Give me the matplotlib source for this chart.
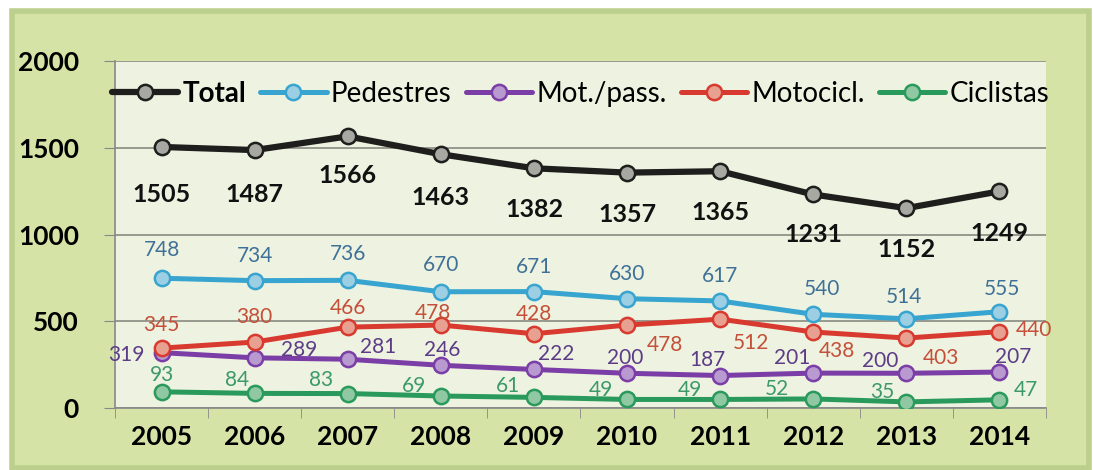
# road victims by type of user, 2005-2014

import matplotlib as mpl
mpl.use('Agg')
import matplotlib.pyplot as plt
from matplotlib.patches import Rectangle
import numpy as np

plt.rcParams['font.family'] = ['Lato', 'DejaVu Sans']

years = ['2005', '2006', '2007', '2008', '2009', '2010', '2011', '2012', '2013', '2014']
total = [1505, 1487, 1566, 1463, 1382, 1357, 1365, 1231, 1152, 1249]
pedestres = [748, 734, 736, 670, 671, 630, 617, 540, 514, 555]
mot_pass = [319, 289, 281, 246, 222, 200, 187, 201, 200, 207]
motocicl = [345, 380, 466, 478, 428, 478, 512, 438, 403, 440]
ciclistas = [93, 84, 83, 69, 61, 49, 49, 52, 35, 47]

# label offsets (points) per point
off_total = [(0, -34), (0, -32), (0, -28), (0, -31), (0, -30), (0, -30), (0, -30), (0, -29), (0, -30), (0, -30)]
off_ped = [(0, 20), (0, 18), (0, 19), (0, 19), (0, 18), (0, 18), (0, 18), (6, 18), (-2, 16), (2, 16)]
off_mot = [(-25, -2), (32, 6), (22, 9), (1, 11), (16, 11), (-1, 11), (-9, 11), (-15, 11), (-19, 9), (10, 11)]
off_moto = [(0, 17), (0, 18), (0, 14), (-6, 9), (0, 14), (27, -14), (22, -17), (17, -14), (25, -14), (25, 1)]
off_cic = [(0, 12), (-13, 10), (-19, 10), (-19, 7), (-19, 8), (-19, 7), (-22, 7), (-26, 7), (-17, 7), (19, 7)]

series = [
    ('Total', total, '#1e1e1c', '#a8a8a2', '#111111', 4.5, off_total),
    ('Pedestres', pedestres, '#38a4d0', '#9ccfe4', '#3f7198', 3.6, off_ped),
    ('Mot./pass.', mot_pass, '#7a3ea6', '#b89ad0', '#5c3c86', 3.6, off_mot),
    ('Motocicl.', motocicl, '#d83a30', '#e8a090', '#c4503a', 3.6, off_moto),
    ('Ciclistas', ciclistas, '#2a9a5c', '#90c8a4', '#3c9a6a', 3.6, off_cic),
]

fig = plt.figure(figsize=(10.93, 4.70), dpi=100)
fig.patch.set_facecolor('white')

# green frame behind the chart
frame = Rectangle((0.011, 0.004), 0.985, 0.972, transform=fig.transFigure,
                  facecolor='#d5e4a6', edgecolor='#bccf8c', linewidth=4, zorder=-10)
fig.patches.append(frame)

ax = fig.add_axes([0.1052, 0.132, 0.8518, 0.738])
ax.set_facecolor('#eef2e0')

x = np.arange(len(years))
for name, vals, col, face, lcol, lw, offs in series:
    ax.plot(x, vals, color=col, lw=lw, marker='o', markersize=11,
            markerfacecolor=face, markeredgecolor=col, markeredgewidth=1.8,
            label=name, zorder=3, solid_capstyle='round')
    bold = name == 'Total'
    for xi, v, o in zip(x, vals, offs):
        ax.annotate(str(v), (xi, v), xytext=o, textcoords='offset points',
                    ha='center', va='center', color=lcol,
                    fontsize=18 if bold else 15,
                    fontweight='bold' if bold else 'normal', zorder=4)

ax.set_xlim(-0.5, len(years) - 0.5)
ax.set_ylim(0, 2000)
ax.set_yticks([0, 500, 1000, 1500, 2000])
ax.set_yticklabels(['0', '500', '1000', '1500', '2000'], fontsize=19, fontweight='bold')
ax.set_xticks(x)
ax.set_xticklabels(years, fontsize=19, fontweight='bold')
ax.set_xticks(np.arange(len(years) + 1) - 0.5, minor=True)
ax.tick_params(axis='x', which='major', length=0, pad=12)
ax.tick_params(axis='x', which='minor', length=7, color='#888888', direction='out')
ax.tick_params(axis='y', length=8, color='#888888', direction='out', pad=18)
ax.yaxis.grid(True, color='#8a8a80', lw=1.2)
ax.set_axisbelow(True)
for s in ['top', 'right']:
    ax.spines[s].set_visible(False)
for s in ['left', 'bottom']:
    ax.spines[s].set_color('#888888')
    ax.spines[s].set_linewidth(1.2)

leg = ax.legend(loc='center', bbox_to_anchor=(0.5, 0.905), ncol=5, frameon=False,
                fontsize=20, handlelength=2.4, handletextpad=0.15, columnspacing=0.5,
                borderaxespad=0.0, borderpad=0.0)
for t in leg.get_texts():
    if t.get_text() == 'Total':
        t.set_fontweight('bold')

plt.savefig('out.png', dpi=100)
plt.close()
